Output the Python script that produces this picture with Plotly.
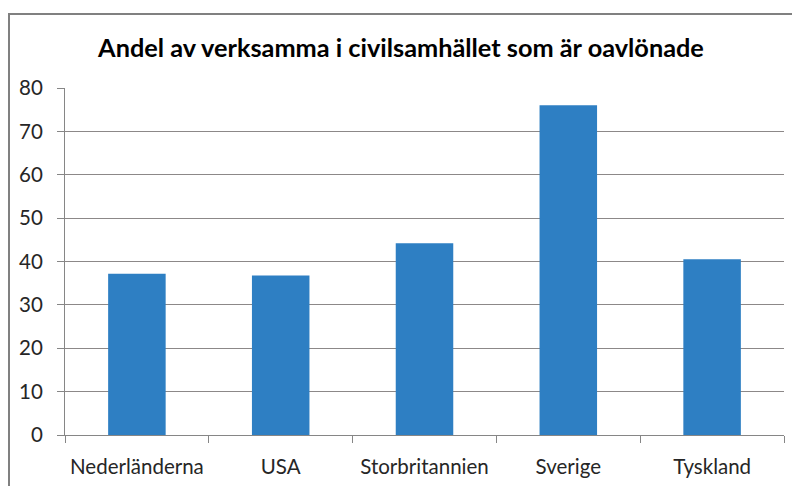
import plotly.graph_objects as go

categories = ["Nederländerna", "USA", "Storbritannien", "Sverige", "Tyskland"]
values = [37.2, 36.8, 44.2, 76.0, 40.5]
title_text = "Andel av verksamma i civilsamhället som är oavlönade"
y_ticks = [0, 10, 20, 30, 40, 50, 60, 70, 80]

BAR = "#2E7FC3"
GRID = "#8c8888"
AXIS = "#868686"
TXT = "#262626"

# page body has an 8px margin, so figure coords = screen coords - 8
OFF = 8
L, R, T, B = 65 - OFF, 800 - (784 - OFF), 88 - OFF, 486 - (435 - OFF)
PW, PH = 800 - L - R, 486 - T - B

fig = go.Figure(
    go.Bar(x=categories, y=values, marker=dict(color=BAR, line=dict(width=0)))
)

fig.update_layout(
    width=800,
    height=486,
    paper_bgcolor="white",
    plot_bgcolor="white",
    margin=dict(l=L, r=R, t=T, b=B),
    bargap=0.6,
    showlegend=False,
    title=dict(
        text="<b>" + title_text + "</b>",
        x=(401 - OFF - L) / PW,
        xref="paper",
        xanchor="center",
        y=1 - (48 - OFF) / 486,
        yanchor="middle",
        font=dict(family="Lato, Liberation Sans, sans-serif", size=25.3, color="#000000"),
    ),
    font=dict(family="Lato, Open Sans, sans-serif", size=20.5, color=TXT),
    shapes=[
        dict(
            type="rect",
            xref="paper",
            yref="paper",
            x0=(1 - L) / PW,
            x1=1.2,
            y0=-0.4,
            y1=1 + (T - (14 - OFF)) / PH,
            line=dict(color="#808080", width=2),
            fillcolor="rgba(0,0,0,0)",
            layer="below",
        )
    ],
)

fig.update_xaxes(
    type="category",
    tickson="boundaries",
    ticks="outside",
    ticklen=7,
    tickcolor=AXIS,
    showline=True,
    linecolor=AXIS,
    linewidth=1,
    showgrid=False,
    ticklabelstandoff=13,
)

fig.update_yaxes(
    range=[0, 80],
    tickvals=y_ticks,
    ticks="outside",
    ticklen=7,
    tickcolor=AXIS,
    showline=True,
    linecolor=AXIS,
    linewidth=1,
    showgrid=True,
    gridcolor=GRID,
    gridwidth=1,
    zeroline=False,
    ticklabelstandoff=10,
)

fig.write_html("out.html")
